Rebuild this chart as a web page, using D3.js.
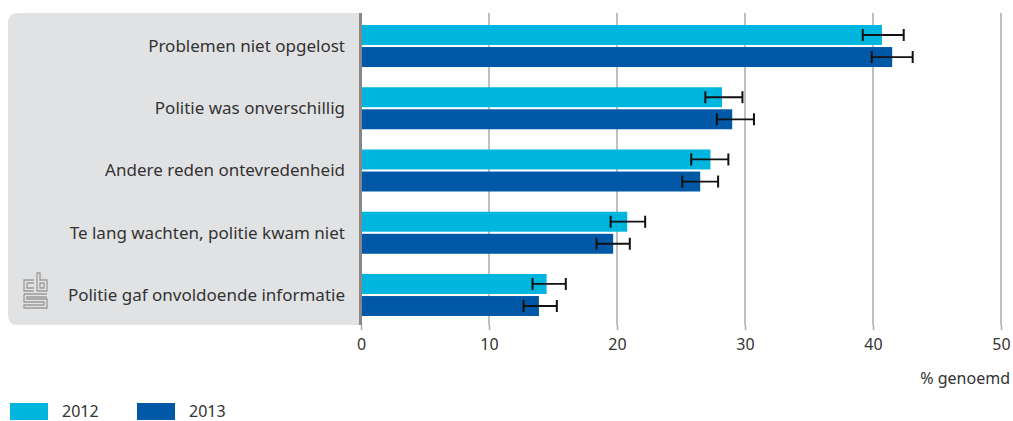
<!DOCTYPE html>
<html>
<head>
<meta charset="utf-8">
<script src="https://cdn.jsdelivr.net/npm/d3@7"></script>
<style>
  body { margin: 0; background: #fff; }
  text { font-family: "Noto Sans", sans-serif; fill: #333; }
</style>
</head>
<body>
<div id="chart"></div>
<script>
// data
var categories = [
  "Problemen niet opgelost",
  "Politie was onverschillig",
  "Andere reden ontevredenheid",
  "Te lang wachten, politie kwam niet",
  "Politie gaf onvoldoende informatie"
];
var years = ["2012", "2013"];
var values2012 = [40.7, 28.2, 27.3, 20.8, 14.5];
var values2013 = [41.5, 29.0, 26.5, 19.7, 13.9];
var low2012 = [39.2, 26.9, 25.8, 19.5, 13.4];
var high2012 = [42.4, 29.8, 28.7, 22.2, 16.0];
var low2013 = [39.9, 27.8, 25.1, 18.4, 12.7];
var high2013 = [43.1, 30.7, 27.9, 21.0, 15.3];
var xTicks = [0, 10, 20, 30, 40, 50];
var colors = ["#00b5de", "#0058a7"];

var svgWidth = 1013;
var svgHeight = 421;

var margin = { top: 13, right: 12, bottom: 96, left: 361 };
var width = svgWidth - margin.left - margin.right;
var height = svgHeight - margin.top - margin.bottom;

var svg = d3.select("#chart")
  .append("svg")
  .attr("width", svgWidth)
  .attr("height", svgHeight);

// grey label panel with rounded left corners
svg.append("path")
  .attr("d", "M 362 13 L 18 13 Q 8 13 8 23 L 8 315 Q 8 325 18 325 L 362 325 Z")
  .attr("fill", "#e1e2e4");

var chartGroup = svg.append("g")
  .attr("transform", `translate(${margin.left}, ${margin.top})`);

var x = d3.scaleLinear().domain([0, 50]).range([0, 640]);
var y = d3.scaleBand().domain(categories).range([12, 303]).paddingInner(0.325).paddingOuter(0);
var ySub = d3.scaleBand().domain(years).range([0, y.bandwidth()]).paddingInner(0.095);

// gridlines
chartGroup.selectAll(".grid")
  .data(xTicks.slice(1))
  .enter()
  .append("line")
  .attr("x1", d => x(d))
  .attr("x2", d => x(d))
  .attr("y1", 0)
  .attr("y2", height)
  .attr("stroke", "#aaa")
  .attr("stroke-width", 1.5);

// x axis
var bottomAxis = d3.axisBottom(x).tickValues(xTicks).tickSize(5).tickPadding(9);
var xAxis = chartGroup.append("g")
  .attr("transform", `translate(0, ${height})`)
  .call(bottomAxis);
xAxis.select(".domain").remove();
xAxis.selectAll(".tick line").attr("stroke", "#aaa").attr("stroke-width", 1.5);
xAxis.selectAll("text").style("font-size", "16px").style("fill", "#333");

chartGroup.append("text")
  .attr("x", 649)
  .attr("y", 371)
  .attr("text-anchor", "end")
  .style("font-size", "16px")
  .text("% genoemd");

// bars
var rows = categories.map((c, i) => ({
  cat: c,
  items: [
    { year: "2012", v: values2012[i], lo: low2012[i], hi: high2012[i] },
    { year: "2013", v: values2013[i], lo: low2013[i], hi: high2013[i] }
  ]
}));

var groups = chartGroup.selectAll(".row")
  .data(rows)
  .enter()
  .append("g")
  .attr("transform", d => `translate(0, ${y(d.cat)})`);

groups.selectAll("rect")
  .data(d => d.items)
  .enter()
  .append("rect")
  .attr("x", 0)
  .attr("y", d => ySub(d.year))
  .attr("width", d => x(d.v))
  .attr("height", ySub.bandwidth())
  .attr("fill", (d, i) => colors[i]);

// error bars
var errs = groups.selectAll(".err")
  .data(d => d.items)
  .enter()
  .append("g")
  .attr("transform", d => `translate(0, ${ySub(d.year) + ySub.bandwidth() / 2})`);

errs.append("line")
  .attr("x1", d => x(d.lo))
  .attr("x2", d => x(d.hi))
  .attr("stroke", "#111")
  .attr("stroke-width", 1.8);
errs.append("line")
  .attr("x1", d => x(d.lo))
  .attr("x2", d => x(d.lo))
  .attr("y1", -6).attr("y2", 6)
  .attr("stroke", "#111")
  .attr("stroke-width", 2);
errs.append("line")
  .attr("x1", d => x(d.hi))
  .attr("x2", d => x(d.hi))
  .attr("y1", -6).attr("y2", 6)
  .attr("stroke", "#111")
  .attr("stroke-width", 2);

// category labels
chartGroup.selectAll(".label")
  .data(categories)
  .enter()
  .append("text")
  .attr("x", -16)
  .attr("y", d => y(d) + y.bandwidth() / 2)
  .attr("dy", "0.35em")
  .attr("text-anchor", "end")
  .style("font-size", "17px")
  .text(d => d);

// vertical axis line
svg.append("line")
  .attr("x1", 360.5).attr("x2", 360.5)
  .attr("y1", 13).attr("y2", 325)
  .attr("stroke", "#888")
  .attr("stroke-width", 3);

// cbs logo (simple line drawing)
var logo = svg.append("g")
  .attr("transform", "translate(23, 272)")
  .attr("fill", "none")
  .attr("stroke", "#9a9a9a")
  .attr("stroke-width", 1.3);
logo.append("path").attr("d", "M 11 8 L 1 8 L 1 19 L 11 19 M 4 11 L 11 11 M 4 11 L 4 16 L 11 16");
logo.append("path").attr("d", "M 14 1 L 17 1 L 17 8 L 24 8 L 24 19 L 14 19 Z M 17 11 L 21 11 L 21 16 L 17 16 Z");
logo.append("path").attr("d", "M 1 22 L 24 22 L 24 22 M 1 22 L 1 30 L 21 30 L 21 33 L 1 33 L 1 36 L 24 36 L 24 27 L 4 27 L 4 25 L 24 25");

// legend
var legend = svg.append("g").attr("transform", "translate(10, 403)");
years.forEach(function(yr, i) {
  var off = i * 127;
  legend.append("rect")
    .attr("x", off).attr("y", 0)
    .attr("width", 38).attr("height", 17)
    .attr("fill", colors[i]);
  legend.append("text")
    .attr("x", off + 52).attr("y", 14)
    .style("font-size", "16px")
    .text(yr);
});
</script>
</body>
</html>
